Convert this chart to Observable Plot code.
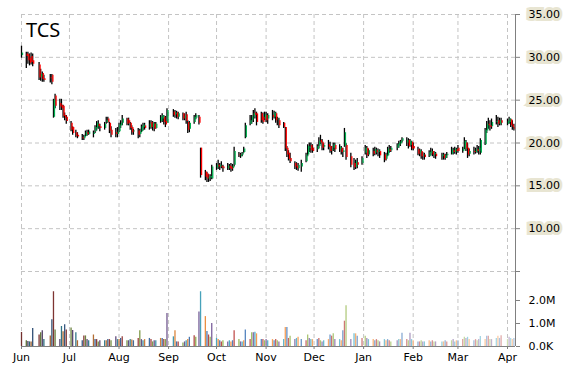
<!DOCTYPE html>
<html>
<head>
<meta charset="utf-8">
<script src="https://cdn.jsdelivr.net/npm/d3@7"></script>
<script src="https://cdn.jsdelivr.net/npm/@observablehq/plot@0.6"></script>
<style>
  html, body { margin: 0; padding: 0; background: #fff; }
  #chart { position: relative; width: 570px; height: 370px; overflow: hidden; font-family: "DejaVu Sans", sans-serif; }
  #chart svg { position: absolute; left: 0; top: 0; }
  #title { position: absolute; left: 26px; top: 20px; font-family: "Noto Sans", sans-serif; font-size: 20px; line-height: 20px; color: #000; z-index: 5; }
</style>
</head>
<body>
<div id="chart"><div id="title">TCS</div></div>
<script>
// ---------------- data (one value per weekday, Jun 1 2012 .. Apr 5 2013; null = no trading) ----------------
const monthLabels = ["Jun","Jul","Aug","Sep","Oct","Nov","Dec","Jan","Feb","Mar","Apr"];
const priceTicks = [5, 10, 15, 20, 25, 30, 35];
const priceTickLabels = ["", "10.00", "15.00", "20.00", "25.00", "30.00", "35.00"];
const volumeTicks = [0, 1000000, 2000000];
const volumeTickLabels = ["0.0K", "1.0M", "2.0M"];

const opens = [
  30.2,30.4,30.3,29.9,30.1,29.6,null,29.1,27.7,28.1,27.5,null,27.6,27.9,23.0,25.5,24.6,24.4,24.3,23.2,23.0,
  22.3,21.8,null,21.2,20.9,20.6,20.5,20.8,21.2,21.0,21.0,21.3,21.7,22.2,21.9,21.7,22.4,22.8,22.3,21.5,21.2,21.0,
  21.3,22.0,22.3,22.8,22.6,22.3,21.8,21.3,21.4,21.0,21.3,21.8,22.0,21.8,22.4,21.8,22.2,21.7,22.5,22.8,23.0,22.5,22.3,
  null,23.6,23.3,23.5,23.0,23.4,22.9,23.3,22.4,21.6,22.4,22.9,null,23.0,19.4,16.6,16.4,15.8,15.9,15.8,
  17.1,17.4,17.2,17.3,17.2,17.0,17.3,17.2,17.0,17.4,18.6,18.4,18.6,18.9,20.6,22.2,22.6,23.0,23.5,23.4,23.4,23.0,22.8,
  23.2,22.8,23.2,23.0,23.4,22.7,22.6,22.3,21.8,19.4,18.8,18.2,17.6,17.3,17.0,null,17.2,17.8,18.6,19.4,19.7,19.4,
  19.2,19.6,20.3,20.1,19.5,19.8,19.6,19.1,19.4,19.7,19.2,19.4,18.9,19.6,19.7,18.4,null,17.6,17.2,17.7,17.6,
  null,18.8,19.4,18.6,19.0,18.8,19.1,18.9,19.0,18.6,18.1,18.5,19.2,19.1,null,19.4,19.7,19.9,20.2,20.0,20.3,19.7,20.1,
  19.6,19.2,18.8,19.0,18.5,18.6,18.4,18.8,19.0,18.6,18.7,null,18.4,18.6,18.2,18.5,18.7,19.1,18.9,19.2,
  19.4,19.0,19.3,20.0,19.4,18.7,19.0,18.9,19.2,19.0,18.8,19.8,21.4,22.2,22.0,21.9,22.4,22.6,22.2,22.6,null,
  22.2,22.4,22.7,22.1,21.8
];
const highs = [
  31.3,30.6,30.6,30.4,30.5,30.4,null,29.4,28.6,28.3,27.9,null,28.0,28.0,25.1,25.7,25.1,25.1,24.4,23.5,23.2,
  22.5,21.9,null,21.5,21.2,21.0,20.9,21.4,21.5,21.5,21.4,22.0,22.5,22.6,22.2,22.4,23.0,23.0,22.4,21.9,21.7,21.8,
  22.3,22.6,23.2,22.9,22.9,22.4,22.0,21.6,21.7,21.6,22.1,22.3,22.3,22.6,22.6,22.5,22.4,22.4,23.2,23.4,23.2,23.1,24.0,
  null,23.9,23.8,23.7,23.6,23.5,23.4,23.6,22.6,22.5,23.2,23.4,null,23.2,19.4,16.8,16.6,16.3,16.3,17.4,
  17.6,18.0,17.6,17.8,17.4,17.6,17.5,17.6,17.5,19.5,18.9,18.8,18.9,19.5,22.3,23.2,23.2,23.8,24.0,23.6,23.6,23.5,23.6,
  23.6,23.4,23.8,23.7,23.6,23.0,22.9,22.4,21.8,19.6,19.1,18.8,17.8,17.7,17.6,null,18.0,18.8,19.8,20.0,20.0,19.8,
  19.8,20.6,20.9,20.4,19.9,20.3,20.1,19.6,20.0,20.0,19.8,19.6,19.4,21.7,19.9,18.8,null,18.2,18.0,18.2,18.4,
  null,19.7,19.6,19.3,19.4,19.5,19.4,19.3,19.2,18.9,18.8,19.5,19.7,19.6,null,19.9,20.2,20.3,20.6,20.6,20.5,20.4,20.2,
  20.0,19.5,19.3,19.2,18.9,18.8,19.1,19.4,19.3,19.0,18.9,null,18.8,18.8,18.7,18.9,19.5,19.4,19.5,19.4,
  19.7,19.5,20.6,20.3,20.0,19.3,19.5,19.4,19.7,19.6,20.5,21.7,22.5,22.9,22.6,22.8,23.2,23.0,22.9,22.9,null,
  22.8,23.0,22.8,22.6,22.2
];
const lows = [
  29.9,28.7,29.2,29.0,29.1,28.9,null,27.3,27.2,27.1,27.1,null,27.0,26.8,22.9,24.0,23.8,23.8,22.9,22.6,22.2,
  21.3,20.9,null,20.6,20.5,20.3,20.3,20.7,20.8,20.9,20.6,21.1,21.4,21.6,21.3,21.5,22.2,22.3,21.1,20.6,20.6,20.6,
  21.2,21.7,22.0,22.0,22.0,21.5,20.9,20.9,20.5,20.6,21.2,21.4,21.5,21.5,21.6,21.4,21.3,21.6,22.3,22.4,22.1,21.8,22.3,
  null,23.0,22.9,22.8,22.7,22.6,22.6,22.2,21.1,21.2,22.2,22.7,null,22.1,15.9,15.6,15.4,15.4,15.5,15.7,
  16.8,16.9,16.8,17.0,16.6,16.8,16.8,16.6,16.7,17.2,18.3,18.2,18.4,18.8,20.5,22.0,22.2,22.4,22.8,22.0,22.3,22.2,22.6,
  22.4,22.2,22.6,22.8,22.3,22.0,21.7,21.7,19.0,18.3,17.9,17.6,16.9,16.8,16.7,null,16.6,17.7,18.4,18.9,18.8,18.8,
  18.9,19.3,19.8,19.1,19.1,19.2,18.8,18.6,19.0,18.9,18.9,18.6,18.3,19.5,18.0,17.1,null,16.8,16.9,17.0,17.4,
  null,18.6,18.2,18.4,18.4,18.5,18.6,18.4,18.2,17.7,17.9,18.4,18.8,18.9,null,19.1,19.4,19.6,20.0,19.6,19.3,19.5,19.1,
  19.1,18.5,18.4,18.1,18.0,18.0,18.3,18.5,18.4,18.2,18.1,null,18.0,18.0,18.0,18.2,18.6,18.6,18.7,18.6,
  18.8,18.8,19.2,19.0,18.2,18.4,18.6,18.7,18.8,18.6,18.6,19.7,21.1,21.6,21.4,21.6,22.1,21.8,22.0,22.0,null,
  22.0,22.2,21.8,21.5,21.4
];
const closes = [
  30.5,30.1,29.6,29.3,29.4,29.2,null,27.6,28.0,27.4,27.3,null,27.5,27.1,25.0,24.3,24.2,24.0,23.1,22.9,22.5,
  21.5,21.1,null,20.8,20.7,20.5,20.8,21.2,21.0,21.3,21.2,21.8,22.3,21.9,21.7,22.2,22.6,22.4,21.4,20.9,21.0,21.3,
  22.1,22.3,22.8,22.2,22.3,21.7,21.2,21.4,20.9,21.3,21.9,22.1,21.7,22.2,21.8,22.3,21.6,22.2,23.0,23.2,22.4,22.1,23.8,
  null,23.2,23.5,23.0,23.4,22.8,23.1,22.5,21.5,22.3,23.0,23.2,null,22.3,16.2,16.0,15.8,16.0,16.1,17.2,
  17.4,17.2,17.4,17.1,17.0,17.3,17.0,16.9,17.3,19.0,18.5,18.6,18.8,19.3,22.0,22.6,23.0,23.4,23.2,22.4,22.6,22.4,23.3,
  22.6,23.2,23.0,23.5,22.6,22.8,22.0,21.8,19.3,18.6,18.1,17.8,17.2,17.0,17.4,null,17.6,18.6,19.6,19.5,19.1,19.0,
  19.6,20.2,20.0,19.4,19.7,19.5,19.0,19.3,19.8,19.2,19.5,18.9,19.1,21.2,18.3,17.4,null,17.1,17.8,17.4,18.2,
  null,19.4,18.5,19.1,18.7,19.2,18.9,19.1,18.5,18.0,18.6,19.3,19.0,19.4,null,19.8,20.0,20.2,20.5,20.3,19.6,20.2,19.3,
  19.3,18.7,19.1,18.4,18.6,18.3,18.9,19.0,18.6,18.8,18.4,null,18.6,18.2,18.5,18.7,19.2,18.9,19.3,19.0,
  19.0,19.3,20.2,19.3,18.6,19.0,18.9,19.2,19.0,19.4,20.3,21.5,22.2,22.0,21.8,22.4,22.5,22.2,22.6,22.3,null,
  22.5,22.8,22.0,21.8,21.6
];
// volume in millions of shares
const volumesM = [
  0.61,0.25,0.22,0.2,0.2,0.78,null,0.5,0.6,0.68,0.3,null,0.46,1.16,2.38,0.72,0.3,0.87,0.64,0.94,0.72,
  0.8,0.7,null,0.6,0.25,0.25,0.46,0.46,0.3,0.25,0.5,0.3,0.3,0.2,0.25,0.25,0.25,0.3,0.3,0.25,0.42,0.3,
  0.3,0.35,0.42,0.25,0.25,0.3,0.28,0.25,0.35,0.68,0.3,0.25,0.3,0.35,0.3,0.2,0.25,0.25,0.35,0.35,0.3,0.3,1.43,
  null,0.42,0.68,0.2,0.2,0.15,0.2,0.25,0.3,0.4,0.47,0.4,null,1.5,2.38,1.3,0.65,0.5,0.4,1.0,
  0.35,0.3,0.25,0.2,0.25,0.2,0.25,0.2,0.25,0.68,0.3,0.2,0.2,0.25,0.72,0.3,0.6,0.6,0.62,0.55,0.3,0.3,0.25,
  0.3,0.25,0.3,0.25,0.3,0.25,0.2,0.3,0.83,0.83,0.35,0.45,0.3,0.35,0.4,null,0.3,0.25,0.5,0.35,0.3,0.3,
  0.3,0.35,0.25,0.2,0.25,0.3,0.5,0.45,0.55,0.3,0.3,0.25,0.68,1.1,1.77,0.3,null,0.55,0.55,0.45,0.35,
  null,0.45,0.35,0.3,0.3,0.25,0.3,0.25,0.2,0.3,0.25,0.3,0.25,0.2,null,0.25,0.3,0.3,0.58,0.3,0.25,0.58,0.3,
  0.25,0.2,0.2,0.25,0.2,0.2,0.25,0.2,0.25,0.2,0.2,null,0.2,0.2,0.25,0.2,0.25,0.3,0.2,0.25,
  0.25,0.3,0.4,0.35,0.4,0.3,0.25,0.3,0.25,0.3,0.43,0.3,0.45,0.45,0.3,0.3,0.35,0.45,0.35,0.47,null,
  0.3,0.4,0.35,0.3,0.35
];

// ---------------- build ----------------
const start = new Date(Date.UTC(2012, 5, 1));
const end = new Date(Date.UTC(2013, 3, 6));
const weekdays = d3.utcDay.range(start, end).filter(d => d.getUTCDay() % 6 !== 0);
const n = Math.min(weekdays.length, opens.length);
const rows = [];
for (let i = 0; i < n; i++) {
  if (opens[i] == null) continue;
  rows.push({date: weekdays[i], open: opens[i], high: highs[i], low: lows[i], close: closes[i], volume: volumesM[i] * 1e6, idx: rows.length});
}
const monthStarts = d3.utcMonth.range(start, end);
const monthLabel = d => monthLabels[(d.getUTCFullYear() - 2012) * 12 + d.getUTCMonth() - 5];

const accents = ["#C0504D", "#9BBB59", "#8064A2", "#4BACC6", "#F79646", "#4F81BD"];
const N = rows.length;
function volColor(d) {
  const base = accents[d.idx % 6];
  const s = -0.4 + 0.95 * (d.idx / (N - 1));
  return s < 0 ? d3.interpolateRgb(base, "#000")(-s) : d3.interpolateRgb(base, "#fff")(s);
}

const grid = "#c4c4c4";
const axisGray = "#808080";
const labelBg = "#E8E5D2";
const common = {
  width: 570, marginLeft: 21, marginRight: 55,
  style: {fontFamily: "DejaVu Sans", fontSize: "11px", background: "transparent", color: "#000", overflow: "visible"}
};

const pricePlot = Plot.plot({
  ...common,
  height: 275, marginTop: 14, marginBottom: 4,
  x: {type: "utc", domain: [start, end], axis: null},
  y: {domain: [5, 35], axis: null},
  marks: [
    Plot.ruleY(priceTicks, {stroke: grid, strokeDasharray: "4,3"}),
    Plot.ruleX(monthStarts, {stroke: grid, strokeDasharray: "4,3"}),
    Plot.ruleX(rows, {x: "date", y1: "low", y2: "high", stroke: "#000", strokeWidth: 1.3}),
    Plot.ruleX(rows, {x: "date", y1: "open", y2: "close", stroke: d => d.close >= d.open ? "#00B050" : "#FF0000", strokeWidth: 1.3, dx: 1}),
    Plot.ruleX([end], {stroke: axisGray}),
    // label background: same labels drawn as thick beige strokes behind the real ones
    Plot.text(priceTicks.filter((d, i) => priceTickLabels[i]), {
      x: () => end, y: d => d, text: d => priceTickLabels[priceTicks.indexOf(d)],
      dx: 13, textAnchor: "start", fill: labelBg, stroke: labelBg, strokeWidth: 6, strokeLinejoin: "miter",
      fontSize: 11
    }),
    Plot.axisY(priceTicks, {anchor: "right", tickSize: 4, tickPadding: 9, stroke: axisGray, label: null,
      tickFormat: d => priceTickLabels[priceTicks.indexOf(d)]})
  ]
});

const volPlot = Plot.plot({
  ...common,
  height: 370, marginTop: 271, marginBottom: 24,
  x: {type: "utc", domain: [start, end], axis: null},
  y: {domain: [0, 3260000], axis: null},
  marks: [
    Plot.ruleX(monthStarts, {stroke: grid, strokeDasharray: "4,3"}),
    Plot.ruleX(rows, {x: "date", y1: 0, y2: "volume", stroke: volColor, strokeWidth: 1.3}),
    Plot.ruleX([end], {stroke: axisGray}),
    Plot.ruleY([0], {stroke: axisGray}),
    Plot.axisY(volumeTicks, {anchor: "right", tickSize: 4, tickPadding: 9, stroke: axisGray, label: null,
      tickFormat: d => volumeTickLabels[volumeTicks.indexOf(d)]}),
    Plot.axisX(monthStarts, {anchor: "bottom", tickSize: 3, tickPadding: 4, stroke: axisGray, label: null,
      tickFormat: monthLabel})
  ]
});

const chart = document.getElementById("chart");
chart.appendChild(volPlot);
chart.appendChild(pricePlot);
</script>
</body>
</html>
